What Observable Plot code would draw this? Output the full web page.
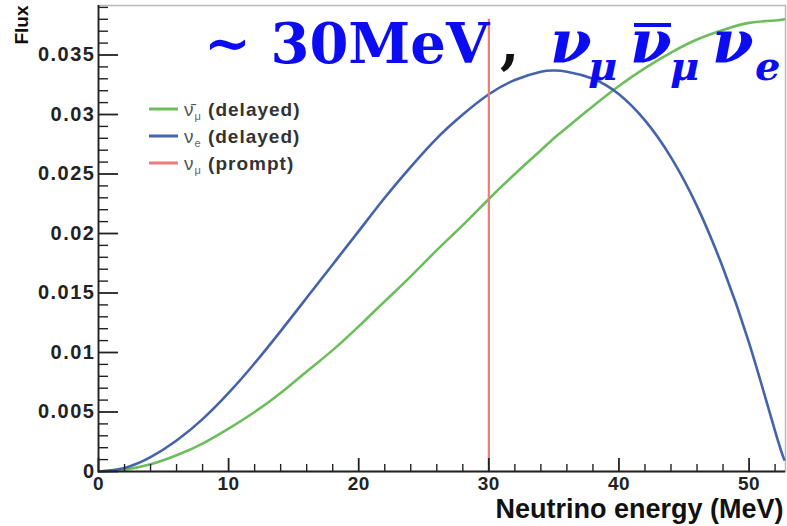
<!DOCTYPE html>
<html>
<head>
<meta charset="utf-8">
<script src="https://cdn.jsdelivr.net/npm/d3@7"></script>
<script src="https://cdn.jsdelivr.net/npm/@observablehq/plot@0.6"></script>
<style>
  html, body { margin: 0; padding: 0; background: #fff; }
  #chart { width: 787px; height: 526px; overflow: hidden; }
</style>
</head>
<body>
<div id="chart"></div>
<script>
// Neutrino energy (MeV)
const energy = [0, 2, 4, 6, 8, 10, 12, 14, 16, 18, 20, 22, 24, 26, 28, 30, 32, 34, 35, 36, 38, 40, 42, 44, 46, 48, 50, 52, 52.7];
// nu_e (delayed) flux, blue
const fluxNuE = [0, 0.0003, 0.0012, 0.0026, 0.0044, 0.0066, 0.0091, 0.0118, 0.0146, 0.0174, 0.0202, 0.0230, 0.0256, 0.0280, 0.0300, 0.0317, 0.0329, 0.0336, 0.0337, 0.0336, 0.0330, 0.0317, 0.0295, 0.0264, 0.0223, 0.0171, 0.0108, 0.0034, 0.0010];
// anti-nu_mu (delayed) flux, green
const fluxNuMuBar = [0, 0.00016, 0.0006, 0.00136, 0.00235, 0.0036, 0.0050, 0.0066, 0.0084, 0.0102, 0.0122, 0.0143, 0.0164, 0.0186, 0.0207, 0.0229, 0.0250, 0.0270, 0.0280, 0.0289, 0.0307, 0.0324, 0.0339, 0.0352, 0.0363, 0.0371, 0.0377, 0.0379, 0.0380];
// nu_mu (prompt) line
const promptEnergy = [30];
const promptTop = 0.038;

const xTicks = [0, 10, 20, 30, 40, 50];
const xMinorTicks = [2, 4, 6, 8, 12, 14, 16, 18, 22, 24, 26, 28, 32, 34, 36, 38, 42, 44, 46, 48, 52];
const yTicks = [0, 0.005, 0.01, 0.015, 0.02, 0.025, 0.03, 0.035];
const yTickLabels = ["0", "0.005", "0.01", "0.015", "0.02", "0.025", "0.03", "0.035"];
const yMinorTicks = [0.001,0.002,0.003,0.004,0.006,0.007,0.008,0.009,0.011,0.012,0.013,0.014,0.016,0.017,0.018,0.019,0.021,0.022,0.023,0.024,0.026,0.027,0.028,0.029,0.031,0.032,0.033,0.034,0.036,0.037,0.038,0.039];

const colors = {green: "#6cbd5c", blue: "#4463ab", red: "#ef7a78", axis: "#222"};

const rowsE = energy.map((e, i) => ({e, f: fluxNuE[i]}));
const rowsM = energy.map((e, i) => ({e, f: fluxNuMuBar[i]}));

const plot = Plot.plot({
  width: 787,
  height: 526,
  marginLeft: 98,
  marginTop: 5,
  marginRight: 2,
  marginBottom: 55,
  style: {fontFamily: "Liberation Sans, Arial, sans-serif", fontSize: "20px", fontWeight: "bold", color: "#222", background: "#fff", overflow: "visible"},
  x: {domain: [0, 52.8]},
  y: {domain: [0, 0.03916]},
  marks: [
    Plot.frame({stroke: "#b8b8b8", strokeWidth: 1.5}),
    Plot.line(rowsM, {x: "e", y: "f", stroke: colors.green, strokeWidth: 2.6, curve: "natural"}),
    Plot.line(rowsE, {x: "e", y: "f", stroke: colors.blue, strokeWidth: 2.6, curve: "natural"}),
    Plot.ruleX(promptEnergy, {y1: 0, y2: promptTop, stroke: colors.red, strokeWidth: 2.2}),
    Plot.ruleY([0], {stroke: colors.axis, strokeWidth: 1.8}),
    Plot.ruleX([0], {stroke: colors.axis, strokeWidth: 1.8}),
    // inward ticks, as in the ROOT frame
    Plot.axisY({ticks: yTicks, tickSize: 20, dx: 20, label: null, tickFormat: () => "", stroke: colors.axis, strokeWidth: 1.8, strokeOpacity: 1}),
    Plot.axisY({ticks: yMinorTicks, tickSize: 10, dx: 10, label: null, tickFormat: () => "", stroke: colors.axis, strokeWidth: 1.4, strokeOpacity: 1}),
    Plot.axisX({ticks: xTicks, tickSize: 13, dy: -13, label: null, tickFormat: () => "", stroke: colors.axis, strokeWidth: 1.8, strokeOpacity: 1}),
    Plot.axisX({ticks: xMinorTicks, tickSize: 7, dy: -7, label: null, tickFormat: () => "", stroke: colors.axis, strokeWidth: 1.4, strokeOpacity: 1}),
    Plot.axisY({ticks: yTicks, tickSize: 0, tickPadding: 3, tickFormat: (d, i) => yTickLabels[i], label: null, fontSize: 20, fill: "#222"}),
    Plot.axisX({ticks: xTicks, tickSize: 0, tickPadding: 5, label: null, fontSize: 19, fill: "#222"}),
    Plot.text(["Neutrino energy (MeV)"], {frameAnchor: "bottom-right", dx: -2, dy: 46, textAnchor: "end", fontSize: 27, fontWeight: "bold", fill: "#111"}),
    Plot.text(["Flux"], {frameAnchor: "top-left", dx: -84, dy: 0, rotate: -90, textAnchor: "end", fontSize: 19, fontWeight: "bold", fill: "#111"})
  ]
});
document.getElementById("chart").appendChild(plot);

const svg = d3.select(plot);
svg.selectAll('g[aria-label="y-axis tick label"] text').attr("letter-spacing", "1.5px");
svg.selectAll('g[aria-label="x-axis tick label"] text').attr("letter-spacing", "0.5px");

// Legend
const legend = svg.append("g").attr("font-family", "Liberation Sans, Arial, sans-serif").attr("font-size", 19).attr("font-weight", "bold").attr("fill", "#333").attr("text-anchor", "start");
const legendItems = [
  {color: colors.green, base: "ν\u0304", sub: "μ", rest: " (delayed)"},
  {color: colors.blue, base: "ν", sub: "e", rest: " (delayed)"},
  {color: colors.red, base: "ν", sub: "μ", rest: " (prompt)"}
];
legendItems.forEach((it, i) => {
  const y = 109 + i * 27;
  legend.append("line").attr("x1", 149).attr("x2", 178).attr("y1", y).attr("y2", y).attr("stroke", it.color).attr("stroke-width", 3);
  const t = legend.append("text").attr("x", 184).attr("y", y + 7).attr("letter-spacing", "1px");
  t.append("tspan").attr("font-weight", "normal").attr("fill", "#555").text(it.base);
  t.append("tspan").attr("font-size", 11).attr("font-weight", "normal").attr("fill", "#666").attr("dy", 4).text(it.sub);
  t.append("tspan").attr("dy", -4).text(it.rest);
});

// Headline
const head = svg.append("g").attr("font-family", "DejaVu Serif, serif").attr("font-weight", "bold").attr("fill", "#0c0cf2").attr("text-anchor", "start");
head.append("text").attr("x", 204).attr("y", 63).attr("font-size", 56).text("~ 30MeV");
head.append("text").attr("x", 500).attr("y", 63).attr("font-size", 56).attr("fill", "#111").text(",");
const nu = head.append("text").attr("y", 63).attr("font-style", "italic").attr("font-size", 60);
nu.append("tspan").attr("x", 550).text("ν");
nu.append("tspan").attr("x", 588).attr("y", 80).attr("font-size", 40).text("μ");
nu.append("tspan").attr("x", 630).attr("y", 63).text("ν");
nu.append("tspan").attr("x", 670).attr("y", 80).attr("font-size", 40).text("μ");
nu.append("tspan").attr("x", 712).attr("y", 63).text("ν");
nu.append("tspan").attr("x", 755).attr("y", 80).attr("font-size", 40).text("e");
// bar over the anti-neutrino
head.append("line").attr("x1", 634).attr("x2", 671).attr("y1", 25).attr("y2", 25).attr("stroke", "#0c0cf2").attr("stroke-width", 4);
</script>
</body>
</html>
